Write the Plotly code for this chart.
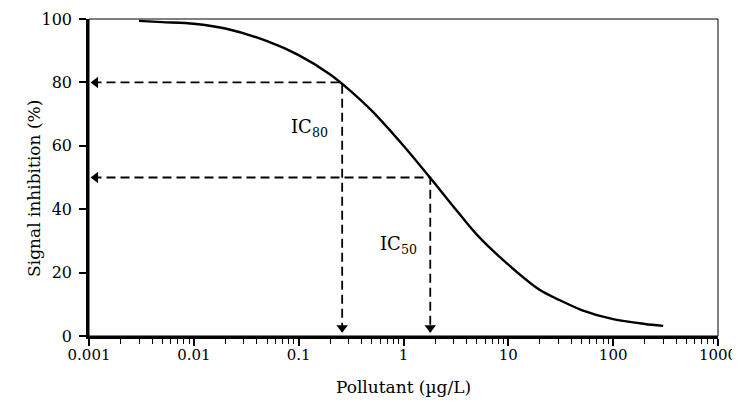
import numpy as np
import plotly.graph_objects as go

# ── Data ──────────────────────────────────────────────────────────────────────
conc = [0.003, 0.005, 0.01, 0.02, 0.05, 0.1, 0.2, 0.3, 0.5, 1, 2, 3, 5,
        10, 20, 30, 50, 100, 200, 300]
inhibition = [99.4, 99.0, 98.5, 97.0, 93.0, 88.6, 82.5, 77.8, 71.0, 60.0,
              48.0, 40.8, 32.0, 22.5, 14.5, 11.5, 8.2, 5.3, 3.8, 3.2]

ic80_x, ic80_y = 0.26, 80
ic50_x, ic50_y = 1.8, 50

x_ticks = [0.001, 0.01, 0.1, 1, 10, 100, 1000]
x_ticktext = ["0.001", "0.01", "0.1", "1", "10", "100", "1000"]
y_ticks = [0, 20, 40, 60, 80, 100]

FONT = "DejaVu Serif"
X_MIN, Y_MIN = 0.00108, 1.2   # arrow tips, just inside the axes

minor_vals = [m * d for d in x_ticks[:-1] for m in range(2, 10)]

fig = go.Figure()

# curve
fig.add_trace(go.Scatter(
    x=conc, y=inhibition, mode="lines",
    line=dict(color="black", width=2.4, shape="spline", smoothing=0.8),
    showlegend=False, hoverinfo="skip",
))

# dashed guide lines
for cx, cy in [(ic80_x, ic80_y), (ic50_x, ic50_y)]:
    fig.add_trace(go.Scatter(
        x=[X_MIN, cx, cx], y=[cy, cy, Y_MIN], mode="lines",
        line=dict(color="black", width=1.8, dash="9px,5px"),
        showlegend=False, hoverinfo="skip",
    ))
    # arrow heads
    fig.add_trace(go.Scatter(
        x=[X_MIN * 1.07], y=[cy], mode="markers",
        marker=dict(symbol="triangle-left", size=10, color="black"),
        showlegend=False, hoverinfo="skip",
    ))
    fig.add_trace(go.Scatter(
        x=[cx], y=[Y_MIN + 1.4], mode="markers",
        marker=dict(symbol="triangle-down", size=10, color="black"),
        showlegend=False, hoverinfo="skip",
    ))

fig.add_annotation(x=-0.90, y=65.6, xref="x", yref="y", showarrow=False,
                   text="IC<sub>80</sub>", font=dict(family=FONT, size=18, color="black"))
fig.add_annotation(x=-0.05, y=28.7, xref="x", yref="y", showarrow=False,
                   text="IC<sub>50</sub>", font=dict(family=FONT, size=18, color="black"))

# y title as annotation (sits a little below the axis middle in the reference)
fig.add_annotation(x=-0.1065, y=0.464, xref="paper", yref="paper",
                   showarrow=False, textangle=-90,
                   text="Signal inhibition (%)",
                   font=dict(family=FONT, size=17, color="black"))

# thin frame on top/right
fig.add_shape(type="rect", xref="paper", yref="paper", x0=0, y0=0, x1=1, y1=1,
              line=dict(color="black", width=1), layer="below")

# page body adds 8px, so the figure is 8px smaller and margins shifted
fig.update_layout(
    width=732, height=396,
    margin=dict(l=81, r=22, t=11, b=68),
    plot_bgcolor="white", paper_bgcolor="white",
    font=dict(family=FONT, size=16, color="black"),
)

fig.update_xaxes(
    type="log", range=[-3, 3], automargin=False,
    tickvals=x_ticks, ticktext=x_ticktext, tickfont=dict(size=15),
    ticks="outside", ticklen=7, tickwidth=1.5, tickcolor="black",
    minor=dict(tickvals=minor_vals, ticks="outside", ticklen=5,
               tickwidth=1.2, tickcolor="black", showgrid=False),
    showgrid=False, zeroline=False,
    showline=True, linecolor="black", linewidth=2.5,
    ticklabelstandoff=-4,
    title=dict(text="Pollutant (µg/L)", font=dict(size=17), standoff=19),
)
fig.update_yaxes(
    range=[0, 100], tickvals=y_ticks, automargin=False,
    ticks="outside", ticklen=7, tickwidth=1.5, tickcolor="black",
    showgrid=False, zeroline=False,
    showline=True, linecolor="black", linewidth=2.5,
    ticklabelstandoff=4,
)

fig.write_html("out.html")
